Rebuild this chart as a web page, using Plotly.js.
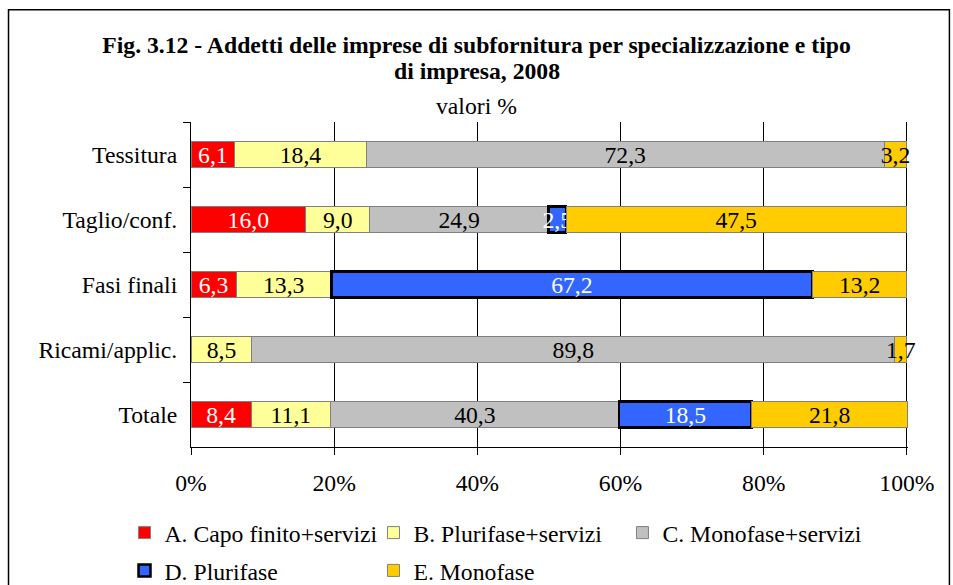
<!DOCTYPE html>
<html>
<head>
<meta charset="utf-8">
<script src="https://cdn.plot.ly/plotly-3.0.1.min.js"></script>
<style>html,body{margin:0;padding:0;background:#fff;}#chart{width:953px;height:585px;}</style>
</head>
<body>
<div id="chart"></div>
<script>
const categories = ["Tessitura", "Taglio/conf.", "Fasi finali", "Ricami/applic.", "Totale"];
const seriesNames = ["A. Capo finito+servizi", "B. Plurifase+servizi", "C. Monofase+servizi", "D. Plurifase", "E. Monofase"];
const valuesA = [6.1, 16.0, 6.3, null, 8.4];
const valuesB = [18.4, 9.0, 13.3, 8.5, 11.1];
const valuesC = [72.3, 24.9, null, 89.8, 40.3];
const valuesD = [null, 2.5, 67.2, null, 18.5];
const valuesE = [3.2, 47.5, 13.2, 1.7, 21.8];
const xTickVals = [0, 20, 40, 60, 80, 100];
const xTickLabels = ["0%", "20%", "40%", "60%", "80%", "100%"];

const allValues = [valuesA, valuesB, valuesC, valuesD, valuesE];
const fills = ["#FF0000", "#FFFF99", "#C0C0C0", "#3366FF", "#FFCC00"];
const edges = ["#808080", "#808080", "#808080", "#000000", "#808080"];
const edgeW = [1, 1, 1, 2.5, 1];
const textCols = ["#FFFFFF", "#000000", "#000000", "#FFFFFF", "#000000"];
const legendIds = ["legend", "legend2", "legend3", "legend", "legend2"];
const FONT = "'Liberation Serif', 'Times New Roman', serif";
const FS = 23.7;

const traces = allValues.map((vals, i) => ({
  type: "bar",
  orientation: "h",
  name: seriesNames[i],
  y: categories,
  x: vals,
  marker: {color: fills[i], line: {color: edges[i], width: edgeW[i]}},
  texttemplate: "%{x:.1f}",
  textposition: "inside",
  insidetextanchor: "middle",
  textangle: 0,
  constraintext: "none",
  cliponaxis: false,
  textfont: {family: FONT, size: FS, color: textCols[i]},
  legend: legendIds[i],
  legendgroup: "g" + i,
  hoverinfo: "skip"
}));

const xMax = 100.15;
const L = 190.5, R100 = 906.5, T = 122.3, B = 447.3;
const R = L + (R100 - L) * xMax / 100;
const W = 953, H = 585;
const px2x = p => (p - L) / (R - L);
const py2y = p => (B - p) / (B - T);

const legendCommon = {
  orientation: "v",
  font: {family: FONT, size: FS, color: "#000"},
  bgcolor: "rgba(0,0,0,0)",
  tracegroupgap: 4,
  xanchor: "left",
  yanchor: "top",
  y: py2y(511),
  itemwidth: 30
};

const layout = {
  width: W, height: H,
  margin: {l: L, r: W - R, t: T, b: H - B, autoexpand: false},
  paper_bgcolor: "#fff",
  plot_bgcolor: "#fff",
  barmode: "stack",
  bargap: 0.6,
  separators: ",.",
  font: {family: FONT, color: "#000", size: FS},
  title: {
    text: "<b>Fig. 3.12 - Addetti delle imprese di subfornitura per specializzazione e tipo</b>",
    font: {family: FONT, size: FS, color: "#000"},
    x: 476.5 / W, xref: "container", xanchor: "center",
    y: 1 - 45 / H, yref: "container", yanchor: "middle"
  },
  annotations: [{
    text: "<b>di impresa, 2008</b>", xref: "paper", yref: "paper",
    x: px2x(476.5), y: py2y(71), xanchor: "center", yanchor: "middle",
    showarrow: false, font: {family: FONT, size: FS, color: "#000"}
  }, {
    text: "valori %", xref: "paper", yref: "paper",
    x: px2x(476.5), y: py2y(106), xanchor: "center", yanchor: "middle",
    showarrow: false, font: {family: FONT, size: FS, color: "#000"}
  }],
  xaxis: {
    range: [0, xMax],
    tickmode: "array",
    tickvals: xTickVals,
    ticktext: xTickLabels,
    showgrid: true, gridcolor: "#000", gridwidth: 1,
    zeroline: false,
    showline: true, linecolor: "#000", linewidth: 1,
    ticks: "outside", ticklen: 7, tickcolor: "#000",
    ticklabelstandoff: 8,
    tickfont: {family: FONT, size: FS, color: "#000"},
    fixedrange: true
  },
  yaxis: {
    type: "category",
    categoryorder: "array",
    categoryarray: categories,
    autorange: "reversed",
    showgrid: false, zeroline: false,
    showline: true, linecolor: "#000", linewidth: 1,
    ticks: "outside", ticklen: 7, tickcolor: "#000",
    tickson: "boundaries",
    ticklabelstandoff: 8,
    tickfont: {family: FONT, size: FS, color: "#000"},
    fixedrange: true
  },
  legend: Object.assign({}, legendCommon, {x: px2x(124)}),
  legend2: Object.assign({}, legendCommon, {x: px2x(373)}),
  legend3: Object.assign({}, legendCommon, {x: px2x(622)}),
  shapes: [{
    type: "rect", xref: "paper", yref: "paper",
    x0: px2x(8), x1: px2x(949), y0: py2y(620), y1: py2y(10),
    line: {color: "#000", width: 1.5}, fillcolor: "rgba(0,0,0,0)", layer: "below"
  }],
  showlegend: true
};

Plotly.newPlot("chart", traces, layout, {displayModeBar: false, staticPlot: true});
</script>
</body>
</html>
